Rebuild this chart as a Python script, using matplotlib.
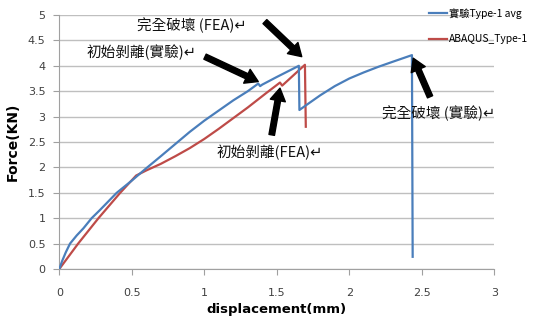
import matplotlib
matplotlib.use("Agg")
import matplotlib.pyplot as plt

plt.rcParams['font.family'] = ['DejaVu Sans']

# Experimental average curve (blue)
exp_x = [0.0, 0.02, 0.045, 0.074, 0.12, 0.166, 0.223, 0.28, 0.396, 0.5, 0.59, 0.7, 0.8, 0.9,
         1.0, 1.1, 1.2, 1.3, 1.372, 1.385, 1.40, 1.5, 1.652, 1.656, 1.7, 1.8, 1.9, 2.0,
         2.1, 2.2, 2.3, 2.432, 2.437]
exp_y = [0.0, 0.16, 0.33, 0.5, 0.66, 0.8, 1.0, 1.16, 1.5, 1.74, 1.96, 2.22, 2.46, 2.7,
         2.92, 3.12, 3.32, 3.5, 3.65, 3.60, 3.63, 3.78, 4.0, 3.13, 3.22, 3.42, 3.6, 3.75,
         3.87, 3.98, 4.08, 4.21, 0.24]

# ABAQUS FEA curve (red)
fea_x = [0.0, 0.13, 0.27, 0.42, 0.53, 0.6, 0.7, 0.8, 0.9, 1.0, 1.1, 1.2, 1.3, 1.43,
         1.522, 1.537, 1.694, 1.70]
fea_y = [0.0, 0.5, 1.0, 1.5, 1.84, 1.94, 2.07, 2.22, 2.38, 2.56, 2.76, 2.97, 3.18, 3.47,
         3.67, 3.61, 4.02, 2.80]

series_labels = ['實驗Type-1 avg', 'ABAQUS_Type-1']
x_ticks = [0, 0.5, 1, 1.5, 2, 2.5, 3]
x_tick_labels = ['0', '0.5', '1', '1.5', '2', '2.5', '3']
y_ticks = [0, 0.5, 1, 1.5, 2, 2.5, 3, 3.5, 4, 4.5, 5]
y_tick_labels = ['0', '0.5', '1', '1.5', '2', '2.5', '3', '3.5', '4', '4.5', '5']

# annotations: text, text position, arrow tail, arrow tip
ann_texts = ['完全破壞 (FEA)↵', '初始剝離(實驗)↵', '初始剝離(FEA)↵', '完全破壞 (實驗)↵']
ann_text_pos = [(0.537, 4.80), (0.191, 4.27), (1.081, 2.30), (2.223, 3.07)]
ann_tail = [(1.418, 4.87), (1.005, 4.18), (1.465, 2.64), (2.557, 3.39)]
ann_tip = [(1.672, 4.18), (1.372, 3.69), (1.522, 3.56), (2.441, 4.15)]

W, H = 533, 321
fig = plt.figure(figsize=(W / 100, H / 100), dpi=100)
ax = fig.add_axes([59.3 / W, (H - 269) / H, 435 / W, 254 / H])

blue = '#4A7EBB'
red = '#BE4B48'
ax.plot(exp_x, exp_y, color=blue, lw=1.6, label=series_labels[0], zorder=3)
ax.plot(fea_x, fea_y, color=red, lw=1.6, label=series_labels[1], zorder=2)

ax.set_xlim(0, 3)
ax.set_ylim(0, 5)
ax.set_xticks(x_ticks)
ax.set_xticklabels(x_tick_labels)
ax.set_yticks(y_ticks)
ax.set_yticklabels(y_tick_labels)
ax.grid(axis='y', color='#BFBFBF', lw=1.0)
ax.set_axisbelow(True)
for s in ['top', 'right']:
    ax.spines[s].set_visible(False)
for s in ['left', 'bottom']:
    ax.spines[s].set_color('#A0A0A0')
ax.tick_params(axis='x', direction='out', length=4, color='#A0A0A0', labelsize=8,
               labelcolor='#404040', pad=10)
ax.tick_params(axis='y', direction='out', length=4, color='#A0A0A0', labelsize=8,
               labelcolor='#404040', pad=6)

ax.set_xlabel('displacement(mm)', fontsize=9.5, fontweight='bold', labelpad=3)
ax.set_ylabel('Force(KN)', fontsize=10, fontweight='bold', labelpad=6)

cjk = ['Noto Sans CJK TC', 'DejaVu Sans']
for t, p in zip(ann_texts, ann_text_pos):
    ax.text(p[0], p[1], t, fontsize=10.5, family=cjk, va='center', ha='left',
            color='#111111', clip_on=False)
for tail, tip in zip(ann_tail, ann_tip):
    ax.annotate('', xy=tip, xytext=tail,
                arrowprops=dict(facecolor='black', edgecolor='black', width=4,
                                headwidth=11, headlength=9, shrink=0),
                annotation_clip=False)

leg = ax.legend(loc='upper left', bbox_to_anchor=(425 / W, 1 - 4 / H),
                bbox_transform=fig.transFigure, frameon=False,
                prop={'family': cjk, 'size': 7.4}, handlelength=1.7,
                handletextpad=0.2, labelspacing=1.5, borderaxespad=0)

fig.savefig('out.png', dpi=100)
